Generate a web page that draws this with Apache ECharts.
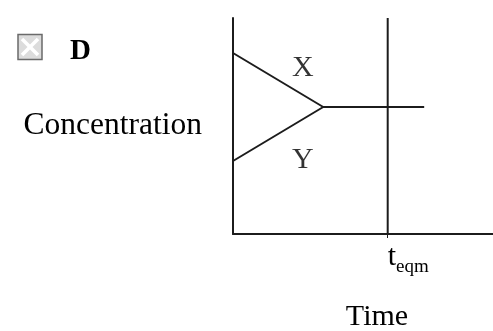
<!DOCTYPE html>
<html>
<head>
<meta charset="utf-8">
<script src="https://cdn.jsdelivr.net/npm/echarts@6/dist/echarts.min.js"></script>
<style>
  html, body { margin: 0; padding: 0; background: #fff; }
  #chart { width: 493px; height: 331px; }
</style>
</head>
<body>
<div id="chart"></div>
<script>
// sketch values (axis units 0..10)
const timePts = [0, 3.47, 7.35];
const concX = [8.38, 5.88, 5.88];
const concY = [3.38, 5.88, 5.88];
const teqm = 5.95;
const tagNames = ['X', 'Y'];
const tagTime = [2.69, 2.69];
const tagConc = [7.66, 3.43];

const SERIF = '"Liberation Serif", "Times New Roman", serif';
const INK = '#1c1c1c';

const pair = (xs, ys) => xs.map((x, i) => [x, ys[i]]);

const chart = echarts.init(document.getElementById('chart'));

chart.setOption({
  animation: false,
  grid: { left: 233, top: 18, right: 0, bottom: 97, outerBoundsMode: 'none' },
  xAxis: {
    type: 'value',
    min: 0,
    max: 10,
    name: 'Time',
    nameLocation: 'middle',
    nameGap: 68,
    nameTextStyle: { fontFamily: SERIF, fontSize: 30, color: '#000', padding: [0, 0, 0, 28] },
    axisLine: { show: true, lineStyle: { color: INK, width: 2 } },
    axisTick: { show: true, customValues: [teqm], length: 4, inside: false, lineStyle: { color: INK, width: 1 } },
    axisLabel: {
      show: true,
      customValues: [teqm],
      margin: 8,
      align: 'left',
      formatter: () => '{t|t}{s|eqm}',
      rich: {
        t: { fontFamily: SERIF, fontSize: 30, color: '#000' },
        s: { fontFamily: SERIF, fontSize: 19, color: '#000', verticalAlign: 'bottom', padding: [0, 0, -5, 0] },
      },
    },
    splitLine: { show: false },
  },
  yAxis: {
    type: 'value',
    min: 0,
    max: 10,
    name: 'Concentration',
    nameLocation: 'middle',
    nameRotate: 0,
    nameGap: 31,
    nameTextStyle: { fontFamily: SERIF, fontSize: 31.5, color: '#000', padding: [4, 0, 0, 0] },
    axisLine: { show: true, lineStyle: { color: INK, width: 2 } },
    axisTick: { show: false },
    axisLabel: { show: false },
    splitLine: { show: false },
  },
  series: [
    {
      name: 'X',
      type: 'line',
      data: pair(timePts, concX),
      symbol: 'none',
      lineStyle: { color: INK, width: 2 },
    },
    {
      name: 'Y',
      type: 'line',
      data: pair(timePts, concY),
      symbol: 'none',
      lineStyle: { color: INK, width: 2 },
    },
    {
      name: 'teqm',
      type: 'line',
      data: [[teqm, 0], [teqm, 10]],
      symbol: 'none',
      lineStyle: { color: INK, width: 2 },
    },
    {
      name: 'tags',
      type: 'scatter',
      symbolSize: 0,
      data: tagNames.map((n, i) => ({ name: n, value: [tagTime[i], tagConc[i]] })),
      label: {
        show: true,
        position: 'inside',
        formatter: (p) => p.name,
        fontFamily: SERIF,
        fontSize: 30,
        color: '#000',
      },
    },
  ],
  graphic: [
    {
      type: 'rect',
      shape: { x: 18, y: 34.5, width: 24, height: 25 },
      style: { fill: '#dcdcdc', stroke: '#6a6a6a', lineWidth: 1.5 },
    },
    {
      type: 'line',
      shape: { x1: 22, y1: 39, x2: 38, y2: 55 },
      style: { stroke: '#fff', lineWidth: 3.5 },
    },
    {
      type: 'line',
      shape: { x1: 38, y1: 39, x2: 22, y2: 55 },
      style: { stroke: '#fff', lineWidth: 3.5 },
    },
    {
      type: 'text',
      x: 70,
      y: 52,
      style: {
        text: 'D',
        font: 'bold 29px ' + SERIF,
        fill: '#000',
        verticalAlign: 'middle',
      },
    },
  ],
});
</script>
</body>
</html>
